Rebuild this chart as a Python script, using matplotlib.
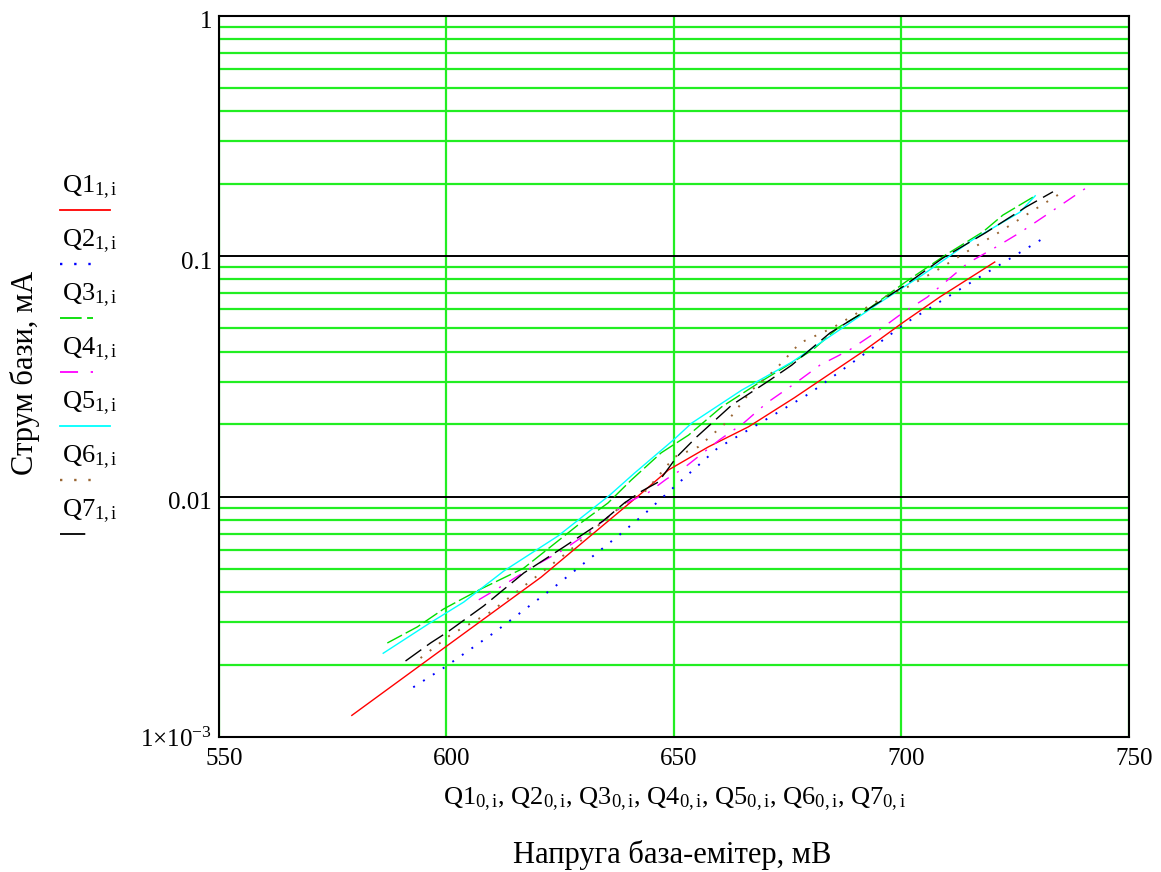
import matplotlib
matplotlib.use('Agg')
from matplotlib import pyplot as plt
from matplotlib.lines import Line2D
from matplotlib.transforms import ScaledTranslation
from matplotlib.ticker import FixedLocator, FixedFormatter, LogLocator, NullFormatter

plt.rcParams['font.family'] = ['Liberation Serif', 'DejaVu Serif']
plt.rcParams['mathtext.fontset'] = 'custom'
plt.rcParams['mathtext.rm'] = 'Liberation Serif'
plt.rcParams['mathtext.it'] = 'Liberation Serif:italic'

# base-emitter voltage, mV / base current, mA
q1_v = [579.2, 599.8, 620.8, 642.8, 648.8, 657.6, 666.4, 676.4, 691.4, 700.2, 708.4, 720.5]
q1_i = [1.23e-3, 2.37e-3, 4.62e-3, 0.0103, 0.0129, 0.0161, 0.0195, 0.0257, 0.0399, 0.0527, 0.0675, 0.0944]

q2_v = [592.7, 599.6, 610.4, 623.4, 637.7, 643.5, 649.9, 659.6, 668.9, 679.9, 690.9, 701.3, 717.2, 730.7]
q2_i = [1.61e-3, 1.95e-3, 2.71e-3, 4.16e-3, 6.85e-3, 8.46e-3, 0.0109, 0.0159, 0.0202, 0.0269, 0.0380,
        0.0532, 0.0818, 0.117]

q3_v = [587.0, 593.6, 599.3, 603.1, 607.5, 617.0, 623.4, 628.9, 635.5, 640.6, 647.2, 653.2, 660.5, 668.9,
        674.4, 680.4, 686.3, 691.8, 700.9, 709.7, 717.9, 722.3, 729.4]
q3_i = [2.46e-3, 2.87e-3, 3.40e-3, 3.72e-3, 4.12e-3, 5.04e-3, 6.29e-3, 7.61e-3, 9.40e-3, 0.0117, 0.0152,
        0.0180, 0.0236, 0.0299, 0.0346, 0.0406, 0.0507, 0.0585, 0.0780, 0.101, 0.126, 0.148, 0.178]

q4_v = [607.1, 612.6, 618.5, 625.6, 631.1, 634.7, 640.0, 644.4, 648.3, 652.1, 660.0, 665.3, 670.4, 677.0,
        682.1, 688.5, 695.1, 700.2, 705.7, 714.6, 720.8, 726.3, 731.8, 740.6]
q4_i = [3.72e-3, 4.29e-3, 5.04e-3, 5.99e-3, 7.05e-3, 7.99e-3, 9.49e-3, 0.0104, 0.0118, 0.0131, 0.0172,
        0.0202, 0.0245, 0.0299, 0.0352, 0.0406, 0.0492, 0.0579, 0.0675, 0.0935, 0.109, 0.126, 0.148, 0.192]

q5_v = [586.1, 596.0, 603.8, 612.6, 624.5, 635.8, 641.3, 649.9, 653.9, 664.9, 675.9, 687.0, 695.1, 704.6,
        715.7, 726.0, 729.4]
q5_i = [2.23e-3, 2.95e-3, 3.64e-3, 4.90e-3, 6.85e-3, 0.0101, 0.0125, 0.0172, 0.0202, 0.0277, 0.0362,
        0.0502, 0.0638, 0.0834, 0.117, 0.152, 0.178]

q6_v = [594.3, 600.9, 609.7, 626.7, 634.0, 640.0, 643.9, 650.1, 655.4, 661.6, 667.1, 672.2, 677.7, 684.8,
        689.6, 695.8, 701.3, 707.9, 715.0, 721.6, 728.3, 735.1]
q6_i = [2.13e-3, 2.66e-3, 3.31e-3, 5.88e-3, 7.76e-3, 9.67e-3, 0.0106, 0.0146, 0.0161, 0.0204, 0.0277,
        0.0336, 0.0435, 0.0502, 0.0569, 0.0669, 0.0743, 0.0875, 0.106, 0.126, 0.152, 0.183]

q7_v = [591.0, 596.5, 600.2, 608.2, 617.0, 625.8, 634.4, 639.1, 642.8, 646.6, 650.6, 655.0, 662.7, 671.1,
        675.9, 684.3, 691.4, 700.2, 709.1, 718.5, 727.4, 733.3]
q7_i = [2.07e-3, 2.46e-3, 2.73e-3, 3.51e-3, 4.81e-3, 6.17e-3, 7.91e-3, 9.40e-3, 0.0105, 0.0115, 0.0146,
        0.0177, 0.0240, 0.0305, 0.0352, 0.0479, 0.0579, 0.0743, 0.0981, 0.125, 0.160, 0.185]

names = ['Q1', 'Q2', 'Q3', 'Q4', 'Q5', 'Q6', 'Q7']
volts = [q1_v, q2_v, q3_v, q4_v, q5_v, q6_v, q7_v]
amps = [q1_i, q2_i, q3_i, q4_i, q5_i, q6_i, q7_i]

x_ticks = [550, 600, 650, 700, 750]
y_ticks = [1e-3, 0.01, 0.1, 1]
y_labels = ['1×10$^{\\mathrm{-3}}$', '0.01', '0.1', '1']

colors = ['#ff0000', '#0000ff', '#00dd00', '#ff00ff', '#00ffff', '#996633', '#000000']
styles = ['-', (0, (1, 5)), (0, (12, 3)), (0, (10, 7, 1.5, 7)), '-', (0, (1, 5)), (0, (14, 5))]
widths = [1.0, 1.4, 1.0, 1.0, 1.0, 1.4, 1.0]
leg_len = [50, 40, 33, 33, 50, 40, 33]

green = '#22ee22'

fig = plt.figure(figsize=(11.61, 8.72), dpi=100)
ax = fig.add_axes([0.1886, 0.1548, 0.7838, 0.8274])

for v, i, c, s, w in zip(volts, amps, colors, styles, widths):
    ax.plot(v, i, color=c, linestyle=s, lw=w, zorder=3)

ax.set_yscale('log')
ax.set_xlim(550, 750)
ax.set_ylim(1e-3, 1)
ax.xaxis.set_major_locator(FixedLocator(x_ticks))
ax.yaxis.set_major_locator(FixedLocator(y_ticks))
ax.yaxis.set_major_formatter(FixedFormatter(y_labels))
ax.yaxis.set_minor_locator(LogLocator(base=10, subs=range(2, 10)))
ax.yaxis.set_minor_formatter(NullFormatter())

ax.set_axisbelow(True)
ax.grid(which='minor', axis='y', color=green, lw=1.6)
ax.grid(which='major', axis='y', color='black', lw=1.4)
ax.grid(which='major', axis='x', color=green, lw=1.6)
ax.tick_params(which='both', length=0, labelsize=18)
ax.tick_params(axis='x', pad=8)
ax.tick_params(axis='y', pad=5)
for sp in ax.spines.values():
    sp.set_linewidth(1.5)

# y labels sit a little below their grid lines, x labels a little to the right
shift_y = ScaledTranslation(0, -4 / 100.0, fig.dpi_scale_trans)
for lab in ax.get_yticklabels()[1:]:
    lab.set_transform(lab.get_transform() + shift_y)
shift_x = ScaledTranslation(5 / 100.0, 0, fig.dpi_scale_trans)
for lab in ax.get_xticklabels():
    lab.set_transform(lab.get_transform() + shift_x)

# axis titles
fig.text(0.581, 0.083,
         ', '.join(n + '$_{\\mathrm{0,i}}$' for n in names),
         ha='center', va='center', fontsize=19)
fig.text(0.579, 0.020, 'Напруга база-емітер, мВ', ha='center', va='center', fontsize=22)
fig.text(0.0215, 0.572, 'Струм бази, мА', rotation=90, ha='center', va='center', fontsize=22)

# stacked legend at the left
W, H = 1161.0, 872.0
for k, (n, c, s, L, w) in enumerate(zip(names, colors, styles, leg_len, widths)):
    ly = 210 + 54 * k
    fig.text(62 / W, 1 - (ly - 18) / H, n + '$_{\\mathrm{1,i}}$',
             ha='left', va='baseline', fontsize=19)
    fig.add_artist(Line2D([60 / W, (60 + L) / W], [1 - ly / H, 1 - ly / H],
                          transform=fig.transFigure, color=c, linestyle=s, lw=w + 0.3))

fig.savefig('out.png', dpi=100)
